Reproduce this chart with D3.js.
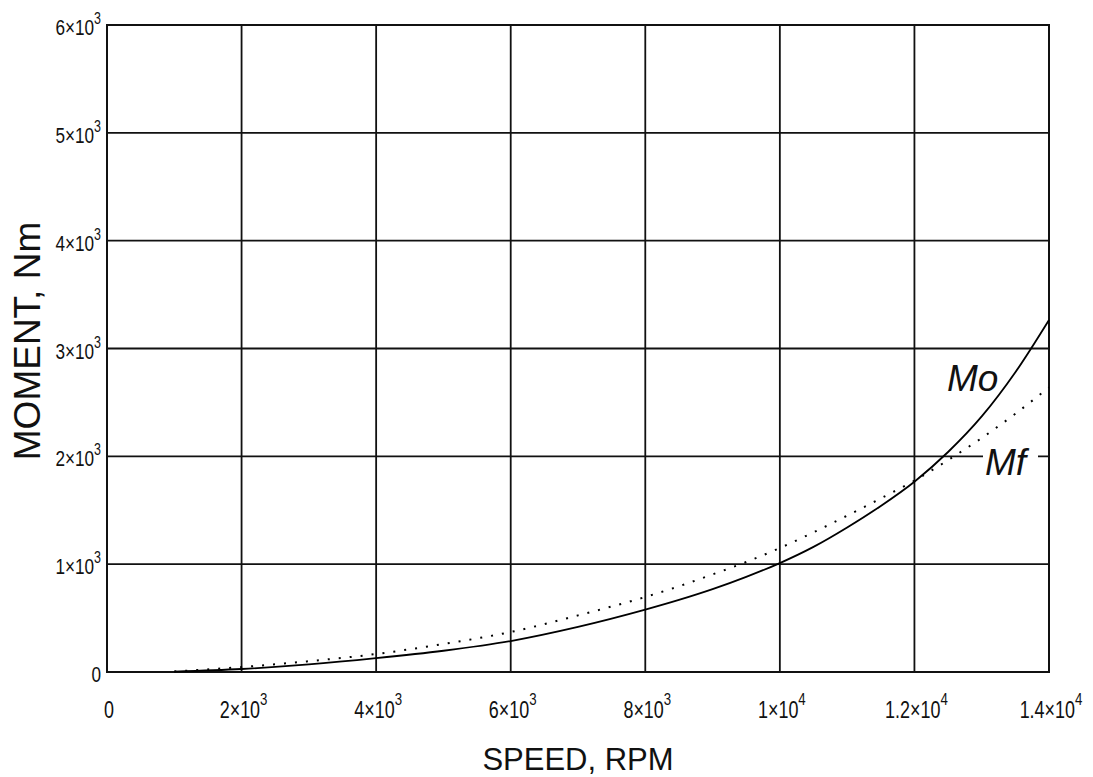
<!DOCTYPE html>
<html><head><meta charset="utf-8">
<script src="https://cdn.jsdelivr.net/npm/d3@7/dist/d3.min.js"></script>
<style>
html,body{margin:0;padding:0;background:#fff;}
svg{display:block;}
</style></head>
<body>
<svg id="chart" width="1093" height="777"></svg>
<script>
const speed = [1000,2000,3000,4000,5000,6000,7000,8000,8500,9000,9500,10000,10500,11000,11500,12000,12500,13000,13500,14000];
const moValues = [4,28,70,128,197,287,418,578,668,768,882,1010,1160,1340,1540,1765,2040,2370,2780,3265];
const mfValues = [5,46,100,167,260,371,525,696,795,905,1020,1150,1295,1450,1610,1775,1965,2170,2395,2640];
const xTicks = [0,2000,4000,6000,8000,10000,12000,14000];
const xTickMant = ["0","2×10","4×10","6×10","8×10","1×10","1.2×10","1.4×10"];
const xTickExp = ["","3","3","3","3","4","4","4"];
const yTicks = [0,1000,2000,3000,4000,5000,6000];
const yTickMant = ["0","1×10","2×10","3×10","4×10","5×10","6×10"];
const yTickExp = ["","3","3","3","3","3","3"];
const seriesNames = ["Mo","Mf"];
const xTitle = "SPEED, RPM";
const yTitle = "MOMENT, Nm";

const svg = d3.select("#chart");
const L = 107, R = 1049, T = 25, B = 672;
const x = d3.scaleLinear().domain([0,14000]).range([L,R]);
const y = d3.scaleLinear().domain([0,6000]).range([B,T]);
const gridColor = "#111";
const tickFont = "'Liberation Sans', Arial, sans-serif";

// grid
const g = svg.append("g");
g.selectAll("line.v").data(xTicks).join("line")
  .attr("x1",d=>x(d)).attr("x2",d=>x(d)).attr("y1",T).attr("y2",B)
  .attr("stroke",gridColor).attr("stroke-width",1.8);
g.selectAll("line.h").data(yTicks).join("line")
  .attr("x1",L).attr("x2",R).attr("y1",d=>y(d)).attr("y2",d=>y(d))
  .attr("stroke",gridColor).attr("stroke-width",1.8);
g.append("rect").attr("x",L).attr("y",T).attr("width",R-L).attr("height",B-T)
  .attr("fill","none").attr("stroke",gridColor).attr("stroke-width",2);

// Mf label background box over gridline
svg.append("rect").attr("x",983).attr("y",y(2000)-4).attr("width",55).attr("height",8).attr("fill","#fff");

// x tick labels
xTicks.forEach((t,i)=>{
  const tg = svg.append("g").attr("transform",`translate(${x(t)+2},718) scale(0.78,1)`);
  const tx = tg.append("text").attr("text-anchor","middle")
    .attr("font-family",tickFont).attr("font-size",23).attr("fill","#111");
  tx.append("tspan").text(xTickMant[i]);
  if (xTickExp[i]) tx.append("tspan").attr("dy",-13).attr("font-size",17).text(xTickExp[i]);
});
// y tick labels
yTicks.forEach((t,i)=>{
  const tg = svg.append("g").attr("transform",`translate(101,${y(t)+10}) scale(0.78,1)`);
  const tx = tg.append("text").attr("text-anchor","end")
    .attr("font-family",tickFont).attr("font-size",22).attr("fill","#111");
  tx.append("tspan").text(yTickMant[i]);
  if (yTickExp[i]) tx.append("tspan").attr("dy",-11).attr("font-size",16).text(yTickExp[i]);
});

// curves
const line = d3.line().x(d=>x(d[0])).y(d=>y(d[1])).curve(d3.curveMonotoneX);
svg.append("path").datum(speed.map((s,i)=>[s,mfValues[i]]))
  .attr("d",line).attr("fill","none").attr("stroke","#000").attr("stroke-width",2)
  .attr("stroke-dasharray","2,9");
svg.append("path").datum(speed.map((s,i)=>[s,moValues[i]]))
  .attr("d",line).attr("fill","none").attr("stroke","#000").attr("stroke-width",1.8);

// series labels
svg.append("text").attr("x",947).attr("y",391).attr("font-family","'Liberation Sans', Arial, sans-serif")
  .attr("font-style","italic").attr("font-size",37).attr("fill","#111").text(seriesNames[0]);
svg.append("text").attr("x",985).attr("y",475).attr("font-family","'Liberation Sans', Arial, sans-serif")
  .attr("font-style","italic").attr("font-size",37).attr("fill","#111").text(seriesNames[1]);

// axis titles
svg.append("text").attr("x",578).attr("y",770).attr("text-anchor","middle")
  .attr("font-family","'Liberation Sans', Arial, sans-serif").attr("font-size",31).attr("fill","#111").text(xTitle);
svg.append("text").attr("transform","translate(40,341) rotate(-90)").attr("text-anchor","middle")
  .attr("font-family","'Liberation Sans', Arial, sans-serif").attr("font-size",37).attr("fill","#111").text(yTitle);
</script>
</body></html>
